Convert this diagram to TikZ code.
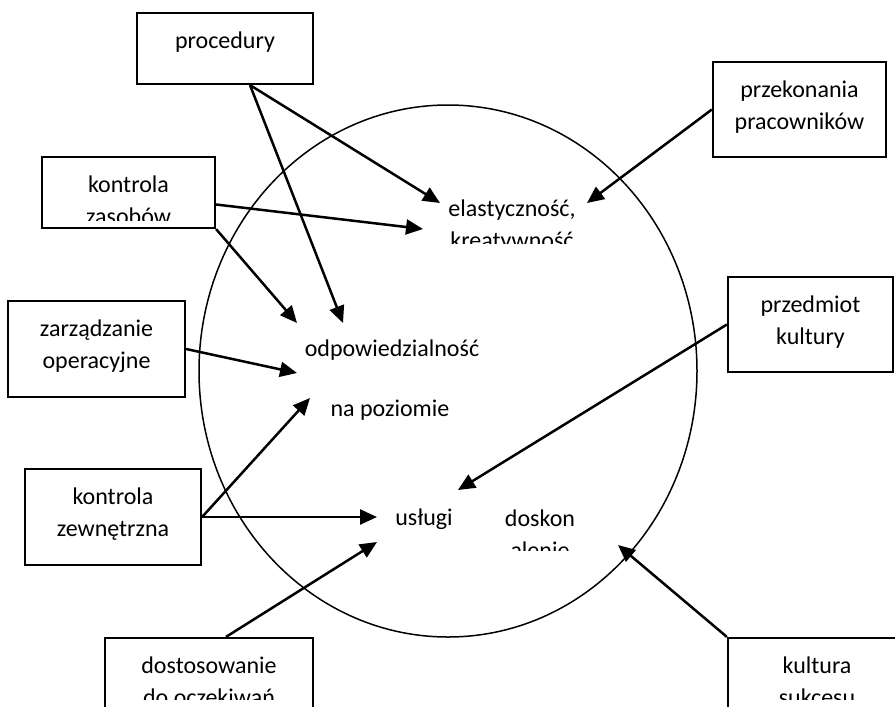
\documentclass[tikz,border=0pt]{standalone}
\usepackage{fontspec}
\setmainfont{Carlito}
\usetikzlibrary{arrows.meta}
\usetikzlibrary{fit}
\usetikzlibrary{positioning}

\begin{document}
\begin{tikzpicture}[x=0.5pt,y=-0.5pt,
  box/.style={draw, line width=1.1pt, inner sep=0pt},
  txt/.style={align=center, inner sep=0pt, font=\fontsize{12}{16}\selectfont},
  arr/.style={line width=1.25pt, -{Triangle[length=8.5pt,width=7.5pt]}}]
 \clip (0,0) rectangle (895,707);
 \draw[line width=0.75pt] (448,371) ellipse [x radius=249, y radius=266];

 \node[box, fit={(137,13) (313,84)}]   (proc)  {};
 \node[box, fit={(713,62) (886,157)}]  (przek) {};
 \node[box, fit={(42,157) (215,228)}]  (zas)   {};
 \node[box, fit={(8,301) (185,397)}]   (zarz)  {};
 \node[box, fit={(728,277) (893,372)}] (przed) {};
 \node[box, fit={(25,469) (201,565)}]  (zewn)  {};
 \node[box, fit={(105,638) (313,760)}] (dost)  {};
 \node[box, fit={(728,638) (906,760)}] (sukc)  {};

 \node[txt, below=10pt of proc.north]  (procT)  {procedury};
 \node[txt, below=10pt of przek.north] (przekT) {przekonania\\pracowników};
 \node[txt, below=10pt of zarz.north]  (zarzT)  {zarządzanie\\operacyjne};
 \node[txt, below=10pt of przed.north] (przedT) {przedmiot\\kultury};
 \node[txt, below=10pt of zewn.north]  (zewnT)  {kontrola\\zewnętrzna};
 \begin{scope}
  \clip (42,157) rectangle (215,220);
  \node[txt, below=10pt of zas.north] (zasT) {kontrola\\zasobów};
 \end{scope}
 \begin{scope}
  \clip (105,638) rectangle (313,699);
  \node[txt, below=10pt of dost.north] (dostT) {dostosowanie\\do oczekiwań};
 \end{scope}
 \begin{scope}
  \clip (728,638) rectangle (906,699);
  \node[txt, below=10pt of sukc.north] (sukcT) {kultura\\sukcesu};
 \end{scope}

 \node[txt] (odp) at (392,350) {odpowiedzialność};
 \node[txt] (poz) at (390,410) {na poziomie};
 \node[txt] (usl) at (424,519) {usługi};
 \begin{scope}
  \clip (440,180) rectangle (620,243);
  \node[txt] (ela) at (512,226) {elastyczność,\\kreatywność};
 \end{scope}
 \begin{scope}
  \clip (480,490) rectangle (600,550);
  \node[txt] (dosk) at (540,534) {doskon\\alenie};
 \end{scope}

 \coordinate (elaW1) at (440,203);
 \coordinate (elaW2) at (423,229);
 \coordinate (elaE)  at (587,203);
 \coordinate (odpN1) at (297,323);
 \coordinate (odpN2) at (343,323);
 \coordinate (odpW)  at (297,373);
 \coordinate (pozW)  at (310,398);
 \coordinate (uslW1) at (377,517);
 \coordinate (uslW2) at (377,542);
 \coordinate (uslE)  at (458,490);
 \coordinate (doskE) at (618,545);

 \draw[arr] ([xshift=12.5pt]proc.south) -- (elaW1);
 \draw[arr] ([xshift=12.5pt]proc.south) -- (odpN2);
 \draw[arr] ([yshift=-6pt]zas.east) -- (elaW2);
 \draw[arr] (zas.south east) -- (odpN1);
 \draw[arr] (zarz.east) -- (odpW);
 \draw[arr] (zewn.east) -- (pozW);
 \draw[arr] (zewn.east) -- (uslW1);
 \draw[arr] ([xshift=8.5pt]dost.north) -- (uslW2);
 \draw[arr] (przek.west) -- (elaE);
 \draw[arr] (przed.west) -- (uslE);
 \draw[arr] (sukc.north west) -- (doskE);
\end{tikzpicture}
\end{document}
